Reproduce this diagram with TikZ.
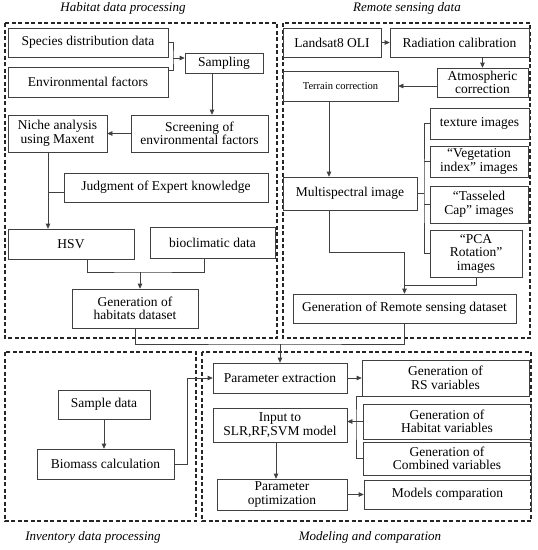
\documentclass[tikz,border=0pt]{standalone}
\usepackage{fontspec}
\setmainfont{Liberation Serif}
\usetikzlibrary{%
  arrows.meta,
  positioning,
  calc}
\tikzset{
  %% Process boxes
  procbox/.style={
    rectangle, draw=black!75, line width=0.6pt,
    align=center, inner sep=1pt,
    font=\fontsize{13.5}{13.5}\selectfont},
  %% Dashed group frames
  groupframe/.style={
    draw=black!85, line width=1.1pt,
    dash pattern=on 4pt off 2.5pt},
  %% Group titles
  grouptitle/.style={font=\fontsize{13}{14}\selectfont\itshape},
  %% Arrows and plain links
  arrow/.style={-{Triangle[length=5pt,width=4.5pt]}, line width=0.6pt, black!75},
  link/.style={line width=0.6pt, black!75},
}
\begin{document}
\begin{tikzpicture}[x=1pt, y=-1pt]
  \useasboundingbox (0,0) rectangle (538,550);

  %% Group frames
  \draw[groupframe] (5,23) rectangle (277,338);
  \draw[groupframe] (283,23) rectangle (530,338);
  \draw[groupframe] (5,352) rectangle (196,521);
  \draw[groupframe] (202,352) rectangle (531,521);

  \node[grouptitle] (tHab) at (123,8) {Habitat data processing};
  \node[grouptitle] (tRem) at (407,8) {Remote sensing data};
  \node[grouptitle] (tInv) at (93,537) {Inventory data processing};
  \node[grouptitle] (tMod) at (370,537) {Modeling and comparation};

  %% Habitat data processing
  \node[procbox, minimum width=160pt, minimum height=29pt] (spec) at (88,42.5)
        {Species distribution data};
  \node[procbox, minimum width=160pt, minimum height=30pt] (envf) at (88,82)
        {Environmental factors};
  \node[procbox, minimum width=78pt, minimum height=20pt] (samp) at (224,63)
        {Sampling};
  \node[procbox, minimum width=137pt, minimum height=37pt] (scr) at (199.5,133.5)
        {Screening of\\ environmental factors};
  \node[procbox, minimum width=99pt, minimum height=37pt] (niche) at (57.5,133.5)
        {Niche analysis\\ using Maxent};
  \node[procbox, minimum width=204pt, minimum height=29pt] (judg) at (166,187.5)
        {Judgment of Expert knowledge};
  \node[procbox, minimum width=126pt, minimum height=30pt] (hsv) at (71,244)
        {HSV};
  \node[procbox, minimum width=125pt, minimum height=31pt] (bioc) at (212.5,242.5)
        {bioclimatic data};
  \node[procbox, minimum width=126pt, minimum height=39pt] (genhab) at (135,308.5)
        {Generation of\\ habitats dataset};

  %% Remote sensing data
  \node[procbox, minimum width=98pt, minimum height=29pt] (land) at (332,42.5)
        {Landsat8 OLI};
  \node[procbox, minimum width=139pt, minimum height=29pt] (rad) at (459.5,42.5)
        {Radiation calibration};
  \node[procbox, minimum width=91pt, minimum height=29pt] (atm) at (482.5,82.5)
        {Atmospheric\\ correction};
  \node[procbox, minimum width=115pt, minimum height=30pt,
        font=\fontsize{10.5}{12}\selectfont] (terr) at (340.5,86)
        {Terrain correction};
  \node[procbox, minimum width=134pt, minimum height=33pt] (multi) at (350,193.5)
        {Multispectral image};
  \node[procbox, minimum width=99pt, minimum height=31pt] (textimg) at (479.5,123.5)
        {texture images};
  \node[procbox, minimum width=98pt, minimum height=31pt] (vegimg) at (479,161.5)
        {“Vegetation\\ index” images};
  \node[procbox, minimum width=98pt, minimum height=37pt] (tassimg) at (479,204.5)
        {“Tasseled\\ Cap” images};
  \node[procbox, minimum width=92pt, minimum height=47pt] (pcaimg) at (476,253.5)
        {“PCA\\ Rotation”\\ images};
  \node[procbox, minimum width=223pt, minimum height=29pt] (genrs) at (404.5,308.5)
        {Generation of Remote sensing dataset};

  %% Inventory data processing
  \node[procbox, minimum width=92pt, minimum height=29pt] (sdata) at (104,404.5)
        {Sample data};
  \node[procbox, minimum width=137pt, minimum height=30pt] (biom) at (105.5,464)
        {Biomass calculation};

  %% Modeling and comparation
  \node[procbox, minimum width=134pt, minimum height=30pt] (pext) at (280,378)
        {Parameter extraction};
  \node[procbox, minimum width=167pt, minimum height=36pt] (rsv) at (445.5,378)
        {Generation of\\ RS variables};
  \node[procbox, minimum width=168pt, minimum height=35pt] (habv) at (447,421.5)
        {Generation of\\ Habitat variables};
  \node[procbox, minimum width=168pt, minimum height=33pt] (combv) at (447,458.5)
        {Generation of\\ Combined variables};
  \node[procbox, minimum width=134pt, minimum height=34pt] (input) at (280,425)
        {Input to\\ SLR,RF,SVM model};
  \node[procbox, minimum width=130pt, minimum height=31pt] (popt) at (282,494.5)
        {Parameter\\ optimization};
  \node[procbox, minimum width=167pt, minimum height=29pt] (modc) at (447.5,494.5)
        {Models comparation};

  %% Junction points
  \coordinate (j1) at (173,58);
  \coordinate (j2) at (140,272);
  \coordinate (j3) at (280,344);
  \coordinate (j4) at (424,193.5);
  \coordinate (j5) at (404.5,252);
  \coordinate (j6) at (404.5,285);
  \coordinate (j7) at (187,378);
  \coordinate (j8) at (356,421.5);

  %% Habitat flow
  \draw[link] (spec.east) -| (j1) |- ([yshift=-4pt]envf.north east);
  \draw[arrow] (j1) -- (samp.west |- j1);
  \draw[arrow] ([xshift=-12pt]samp.south) -- ([xshift=-12pt]samp.south |- scr.north);
  \draw[arrow] (scr.west) -- (niche.east);
  \draw[arrow] ([xshift=-9.5pt]niche.south) -- ([xshift=-9.5pt]niche.south |- hsv.north);
  \draw[link] ([yshift=-5pt]judg.west) -- ([yshift=-5pt, xshift=-9.5pt]judg.west -| niche.south);
  \draw[link] ([xshift=16pt]hsv.south) |- (j2) -| ([xshift=-8.5pt]bioc.south);
  \draw[arrow] (j2) -- (genhab.north -| j2);
  \draw[link] (genhab.south) |- (j3) -| (genrs.south);
  \draw[arrow] (j3) -- (pext.north);

  %% Remote sensing flow
  \draw[arrow] (land.east) -- (rad.west);
  \draw[arrow] (rad.south -| atm.north) -- (atm.north);
  \draw[arrow] (atm.west |- terr.east) -- (terr.east);
  \draw[arrow] ([xshift=-11.5pt]terr.south) -- ([xshift=-11.5pt]terr.south |- multi.north);
  \draw[link] (multi.east) -- (j4);
  \draw[link] (textimg.west) -| (j4) |- (pcaimg.west);
  \draw[link] (vegimg.west) -- (vegimg.west -| j4);
  \draw[link] (tassimg.west) -- (tassimg.west -| j4);
  \draw[link] ([xshift=-21pt]multi.south) |- (j5);
  \draw[link] (pcaimg.south) |- (j6);
  \draw[arrow] (j5) -- (genrs.north);

  %% Inventory flow
  \draw[arrow] (sdata.south) -- (sdata.south |- biom.north);
  \draw[arrow] (biom.east) -| (j7) -- (pext.west);

  %% Modeling flow
  \draw[arrow] (pext.east) -- (rsv.west);
  \draw[link] (rsv.south west) -| (j8) |- (combv.west);
  \draw[arrow] (habv.west) -- (input.east |- habv.west);
  \draw[arrow] ([xshift=-4pt]input.south) -- ([xshift=-4pt]input.south |- popt.north);
  \draw[arrow] (popt.east) -- (modc.west);

\end{tikzpicture}
\end{document}
